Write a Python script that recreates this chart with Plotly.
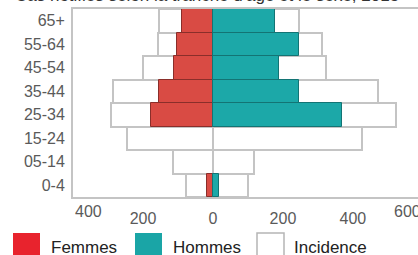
import plotly.graph_objects as go

# ---- data (top to bottom) ----
age_groups = ["65+", "55-64", "45-54", "35-44", "25-34", "15-24", "05-14", "0-4"]
femmes_cas = [89, 103, 110, 153, 177, 0, 0, 17]
hommes_cas = [178, 245, 189, 247, 369, 0, 0, 18]
femmes_incidence = [153, 158, 200, 287, 291, 246, 113, 77]
hommes_incidence = [247, 311, 324, 473, 524, 427, 116, 99]
x_tick_values = [-200, 0, 200, 400]
x_tick_labels = ["200", "0", "200", "400"]
title_text = "Cas notifiés selon la tranche d'âge et le sexe, 2015"
legend_labels = ["Femmes", "Hommes", "Incidence"]

W, H = 418, 255
ML, MR, MT, MB = 73, 0, 9, 58
FONT = "Liberation Sans, Arial, sans-serif"

RED = "#d94b44"
TEAL = "#1ca8a8"
RED_LINE = "#8a2e2a"
TEAL_LINE = "#137474"
GREY = "#c4c4c4"
TICK = "#5a5a5a"


def px_x(p):
    return (p - ML) / (W - ML - MR)


def px_y(p):
    return (H - MB - p) / (H - MT - MB)


def outline(values):
    return [1 if v else 0 for v in values]


fig = go.Figure()
fig.add_trace(go.Bar(y=age_groups, x=[-v for v in femmes_incidence], orientation="h",
                     marker=dict(color="white", line=dict(color=GREY, width=2)),
                     showlegend=False, hoverinfo="skip"))
fig.add_trace(go.Bar(y=age_groups, x=hommes_incidence, orientation="h",
                     marker=dict(color="white", line=dict(color=GREY, width=2)),
                     showlegend=False, hoverinfo="skip"))
fig.add_trace(go.Bar(y=age_groups, x=[-v for v in femmes_cas], orientation="h",
                     marker=dict(color=RED, line=dict(color=RED_LINE, width=outline(femmes_cas))),
                     showlegend=False))
fig.add_trace(go.Bar(y=age_groups, x=hommes_cas, orientation="h",
                     marker=dict(color=TEAL, line=dict(color=TEAL_LINE, width=outline(hommes_cas))),
                     showlegend=False))

# custom legend (large swatches)
sw = [(13, "#e8232d", None), (135, "#1aa5a6", None), (257, "white", "#b5b5b5")]
text_x = [49, 171, 292]
shapes = []
annotations = []
for (x0, col, lc), lab, tx in zip(sw, legend_labels, text_x):
    shapes.append(dict(type="rect", xref="paper", yref="paper",
                       x0=px_x(x0), x1=px_x(x0 + 27), y0=px_y(261), y1=px_y(233),
                       fillcolor=col,
                       line=dict(color=lc if lc else col, width=1.5 if lc else 0)))
    annotations.append(dict(text=lab, xref="paper", yref="paper", x=px_x(tx), y=px_y(247),
                            xanchor="left", yanchor="middle", showarrow=False,
                            font=dict(family=FONT, size=17, color="#222222")))

# title (mostly cropped at top)
annotations.append(dict(text=title_text, xref="paper", yref="paper", x=px_x(13), y=px_y(-4.5),
                        xanchor="left", yanchor="middle", showarrow=False,
                        font=dict(family=FONT, size=17, color="#333333")))
# edge tick labels
annotations.append(dict(text="400", xref="paper", yref="paper", x=px_x(73), y=px_y(211),
                        xanchor="left", yanchor="middle", showarrow=False,
                        font=dict(family=FONT, size=16, color=TICK)))
annotations.append(dict(text="600", xref="paper", yref="paper", x=px_x(423), y=px_y(211),
                        xanchor="right", yanchor="middle", showarrow=False,
                        font=dict(family=FONT, size=16, color=TICK)))

fig.update_layout(
    width=W, height=H,
    margin=dict(l=ML, r=MR, t=MT, b=MB, pad=0),
    barmode="overlay", bargap=0,
    plot_bgcolor="white", paper_bgcolor="white",
    showlegend=False,
    shapes=shapes, annotations=annotations,
    font=dict(family=FONT),
)
fig.update_xaxes(range=[-400, 586], tickvals=x_tick_values, ticktext=x_tick_labels,
                 showgrid=False, zeroline=False, showline=True, linecolor=GREY, linewidth=2,
                 mirror=True, ticks="", ticklabelstandoff=6,
                 tickfont=dict(family=FONT, size=16, color=TICK), fixedrange=True)
fig.update_yaxes(categoryorder="array", categoryarray=age_groups[::-1],
                 showgrid=False, zeroline=False, showline=True, linecolor=GREY, linewidth=2,
                 mirror=False, ticks="", ticklabelstandoff=3,
                 tickfont=dict(family=FONT, size=16, color=TICK), fixedrange=True)

fig.write_html("out.html", config={"displayModeBar": False},
               post_script="document.body.style.margin='0';document.body.style.overflow='hidden';")
